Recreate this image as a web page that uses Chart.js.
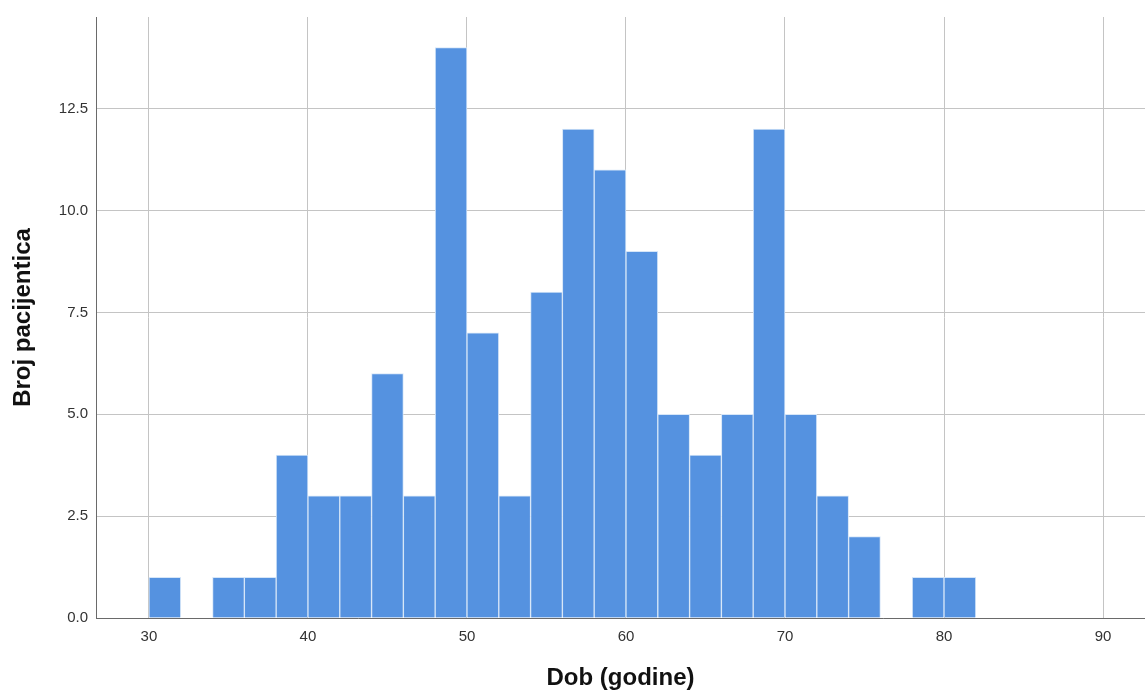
<!DOCTYPE html>
<html>
<head>
<meta charset="utf-8">
<script src="https://cdn.jsdelivr.net/npm/chart.js@4/dist/chart.umd.min.js"></script>
<style>
html,body{margin:0;padding:0;background:#fff;}
#wrap{width:1145px;height:693px;position:relative;}
</style>
</head>
<body>
<div id="wrap"><canvas id="c"></canvas></div>
<script>
// Histogram bins (age, width 2) and counts
const binCenters = [31,33,35,37,39,41,43,45,47,49,51,53,55,57,59,61,63,65,67,69,71,73,75,77,79,81];
const counts     = [ 1, 0, 1, 1, 4, 3, 3, 6, 3,14, 7, 3, 8,12,11, 9, 5, 4, 5,12, 5, 3, 2, 0, 1, 1];
const xTicks = [30,40,50,60,70,80,90];
const yTicks = [0,2.5,5,7.5,10,12.5];
const xTitle = 'Dob (godine)';
const yTitle = 'Broj pacijentica';

const points = binCenters.map((x,i)=>({x:x, y:counts[i]}));

new Chart(document.getElementById('c'), {
  type: 'bar',
  data: {
    datasets: [{
      data: points,
      backgroundColor: '#5592e0',
      borderColor: '#d6e6f8',
      borderWidth: 1,
      borderSkipped: 'bottom',
      barPercentage: 1,
      categoryPercentage: 1,
      grouped: false
    }]
  },
  options: {
    responsive: true,
    maintainAspectRatio: false,
    animation: false,
    layout: { padding: { top: 15, left: 0, right: 0, bottom: 0 } },
    plugins: { legend: { display: false }, tooltip: { enabled: false } },
    scales: {
      x: {
        type: 'linear',
        offset: false,
        min: 26.67,
        max: 92.64,
        afterBuildTicks: s => { s.ticks = xTicks.map(v=>({value:v})); },
        afterFit: s => { s.height = 75; },
        ticks: { color: '#333', font: { family: 'Liberation Sans, Arial', size: 15 }, padding: 10, callback: v => String(v) },
        grid: { color: '#c4c4c4', lineWidth: 1, drawTicks: false, offset: false },
        border: { display: true, color: '#6a6a6a', width: 1, z: 1 },
        title: { display: true, text: xTitle, color: '#111', font: { family: 'Liberation Sans, Arial', size: 24, weight: 'bold' }, padding: { top: 0, bottom: 0 } }
      },
      y: {
        min: 0,
        max: 14.75,
        afterBuildTicks: s => { s.ticks = yTicks.map(v=>({value:v})); },
        afterFit: s => { s.width = 96; },
        ticks: { color: '#333', font: { family: 'Liberation Sans, Arial', size: 15 }, padding: 8, callback: v => Number(v).toFixed(1) },
        grid: { color: '#c4c4c4', lineWidth: 1, drawTicks: false },
        border: { display: true, color: '#6a6a6a', width: 1, z: 1 },
        title: { display: true, text: yTitle, color: '#111', font: { family: 'Liberation Sans, Arial', size: 24, weight: 'bold' }, padding: { top: 9, bottom: 0 } }
      }
    }
  }
});
</script>
</body>
</html>
